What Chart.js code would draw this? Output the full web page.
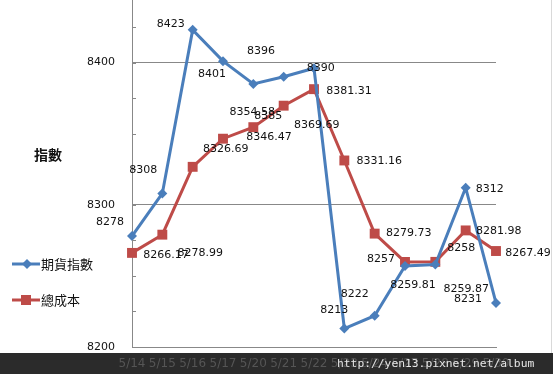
<!DOCTYPE html>
<html>
<head>
<meta charset="utf-8">
<script src="https://cdn.jsdelivr.net/npm/chart.js@4"></script>
<style>
  html, body { margin: 0; padding: 0; background: #fff; }
  #wrap { width: 553px; height: 374px; }
</style>
</head>
<body>
<div id="wrap"><canvas id="c" width="553" height="374"></canvas></div>
<script>
// data
const dates = ['5/14', '5/15', '5/16', '5/17', '5/20', '5/21', '5/22', '5/23', '5/24', '5/27', '5/28', '5/29', '5/30'];
const futures = [8278, 8308, 8423, 8401, 8385, 8390, 8396, 8213, 8222, 8257, 8258, 8312, 8231];
const totalCost = [8266.17, 8278.99, 8326.69, 8346.47, 8354.58, 8369.69, 8381.31, 8331.16, 8279.73, 8259.81, 8259.87, 8281.98, 8267.49];
const seriesNames = ['期貨指數', '總成本'];
const yTitle = '指數';
const yTicks = [8200, 8300, 8400];
const yMin = 8200, yMax = 8444, yMinorStep = 25;

// where each value label sits relative to its point (px)
const futuresLabelOffsets = [[-22, -14], [-19, -23], [-22, -6], [-11, 13], [15, 32], [37, -9], [-53, -17],
    [-10, -18], [-20, -22], [-24, -7], [26, -16], [24, 1], [-28, -4]];
const costLabelOffsets = [[34, 2], [38, 18], [33, -18], [46, -2], [-1, -15], [33, 19], [35, 2],
    [35, 1], [34, 0], [8, 23], [31, 27], [33, 1], [32, 2]];

const blue = '#4a7ebb', red = '#be4b48';
const labelFont = '11px "DejaVu Sans", sans-serif';

const decorations = {
    id: 'decorations',
    beforeDraw(chart) {
        const ctx = chart.ctx;
        ctx.save();
        ctx.fillStyle = '#fff';
        ctx.fillRect(0, 0, chart.width, chart.height);
        ctx.fillStyle = '#2b2b2b';
        ctx.fillRect(0, 353, chart.width, chart.height - 353);
        ctx.restore();
    },
    afterDraw(chart) {
        const ctx = chart.ctx;
        const y = chart.scales.y;
        const area = chart.chartArea;
        ctx.save();

        // minor tick marks inside the axis
        ctx.strokeStyle = '#888';
        ctx.lineWidth = 1;
        for (let v = yMin; v <= yMax; v += yMinorStep) {
            const py = Math.round(y.getPixelForValue(v)) + 0.5;
            ctx.beginPath();
            ctx.moveTo(area.left, py);
            ctx.lineTo(area.left + 4, py);
            ctx.stroke();
        }

        // value labels
        ctx.font = labelFont;
        ctx.fillStyle = '#111';
        ctx.textAlign = 'center';
        ctx.textBaseline = 'middle';
        [[futures, futuresLabelOffsets], [totalCost, costLabelOffsets]].forEach(([vals, offs], di) => {
            const meta = chart.getDatasetMeta(di);
            meta.data.forEach((pt, i) => {
                ctx.fillText(String(vals[i]), pt.x + offs[i][0], pt.y + offs[i][1]);
            });
        });

        // axis title
        ctx.font = 'bold 14px "Noto Sans CJK TC", sans-serif';
        ctx.fillText(yTitle, 48, 155);

        // legend
        ctx.textAlign = 'left';
        ctx.font = '13px "Noto Sans CJK TC", sans-serif';
        ctx.lineWidth = 3;
        ctx.strokeStyle = blue;
        ctx.beginPath(); ctx.moveTo(12, 264); ctx.lineTo(40, 264); ctx.stroke();
        ctx.fillStyle = blue;
        ctx.beginPath();
        ctx.moveTo(27, 259); ctx.lineTo(32, 264); ctx.lineTo(27, 269); ctx.lineTo(22, 264);
        ctx.closePath(); ctx.fill();
        ctx.fillStyle = '#111';
        ctx.fillText(seriesNames[0], 41, 264);

        ctx.strokeStyle = red;
        ctx.beginPath(); ctx.moveTo(12, 300); ctx.lineTo(40, 300); ctx.stroke();
        ctx.fillStyle = red;
        ctx.fillRect(21, 295, 10, 10);
        ctx.fillStyle = '#111';
        ctx.fillText(seriesNames[1], 41, 300);

        // right border
        ctx.strokeStyle = '#d9d9d9';
        ctx.lineWidth = 1;
        ctx.beginPath(); ctx.moveTo(551.5, 0); ctx.lineTo(551.5, 353); ctx.stroke();

        // watermark
        ctx.font = '11.3px "DejaVu Sans Mono", monospace';
        ctx.fillStyle = '#e6e6e6';
        ctx.fillText('http://yen13.pixnet.net/album', 337, 364);
        ctx.restore();
    }
};

new Chart(document.getElementById('c'), {
    type: 'line',
    data: {
        labels: dates,
        datasets: [
            { label: seriesNames[0], data: futures, borderColor: blue, backgroundColor: blue, borderWidth: 3,
              pointStyle: 'rectRot', pointRadius: 5, pointBorderWidth: 0, tension: 0 },
            { label: seriesNames[1], data: totalCost, borderColor: red, backgroundColor: red, borderWidth: 3,
              pointStyle: 'rect', pointRadius: 7, pointBorderWidth: 0, tension: 0 }
        ]
    },
    options: {
        responsive: false,
        animation: false,
        devicePixelRatio: 1,
        layout: { padding: { left: 0, right: 57, top: 0, bottom: 0 }, autoPadding: false },
        plugins: { legend: { display: false }, tooltip: { enabled: false } },
        scales: {
            x: {
                offset: false,
                grid: { display: false, drawTicks: false },
                border: { color: '#888' },
                ticks: { color: '#555', font: { family: '"DejaVu Sans", sans-serif', size: 12 }, padding: 10, maxRotation: 0, autoSkip: false },
                afterFit(s) { s.height = 27; s.paddingLeft = 0; s.paddingRight = 0; }
            },
            y: {
                min: yMin, max: yMax, bounds: 'data',
                grid: { color: '#888', drawTicks: false },
                border: { color: '#888' },
                ticks: { padding: 17, color: '#111', callback: v => String(v),
                    font: { family: '"DejaVu Sans", sans-serif', size: 11 } },
                afterBuildTicks(s) { s.ticks = yTicks.map(v => ({ value: v })); },
                afterFit(s) { s.width = 132; s.paddingTop = 0; s.paddingBottom = 0; }
            }
        }
    },
    plugins: [decorations]
});
</script>
</body>
</html>
